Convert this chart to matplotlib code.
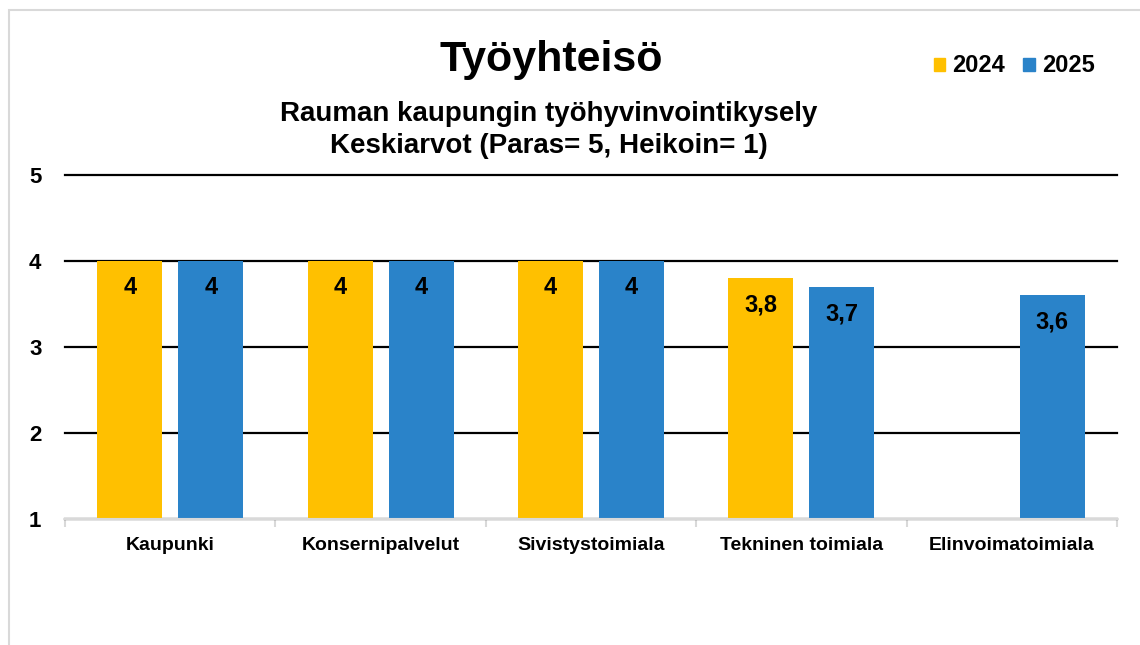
import numpy as np
import matplotlib
matplotlib.use("Agg")
import matplotlib.pyplot as plt
from matplotlib.patches import Patch, Rectangle

plt.rcParams['font.family'] = ['Liberation Sans', 'DejaVu Sans']
plt.rcParams['font.weight'] = 'bold'

# data
categories = ['Kaupunki', 'Konsernipalvelut', 'Sivistystoimiala', 'Tekninen toimiala', 'Elinvoimatoimiala']
years = ['2024', '2025']
vals_2024 = [4, 4, 4, 3.8, np.nan]
vals_2025 = [4, 4, 4, 3.7, 3.6]
yticks = [1, 2, 3, 4, 5]

c2024 = '#FFC000'
c2025 = '#2A83C9'

fig = plt.figure(figsize=(11.4, 6.45), dpi=100)
ax = fig.add_axes([65/1140, 0.1953, (1117-65)/1140, 0.5334])

x = np.arange(len(categories))
w = 0.309
off = 0.1925
base = 1

for vals, shift, col in [(vals_2024, -off, c2024), (vals_2025, off, c2025)]:
    v = np.array(vals, dtype=float)
    ax.bar(x + shift, v - base, w, bottom=base, color=col, zorder=3)
    for xi, vi in zip(x + shift, v):
        if np.isnan(vi):
            continue
        ax.annotate(f"{vi:g}".replace('.', ','), (xi, vi), xytext=(0, -11),
                    textcoords='offset points', ha='center', va='top',
                    fontsize=17, fontweight='bold', color='black', zorder=4)

ax.set_xlim(-0.5, len(categories) - 0.5)
ax.set_ylim(1, 5)
ax.set_yticks(yticks)
ax.set_yticklabels([str(t) for t in yticks], fontsize=16, fontweight='bold')
ax.tick_params(axis='y', length=0, pad=17)
ax.yaxis.grid(True, color='black', linewidth=1.6, zorder=0)
for gl in ax.get_ygridlines():
    gl.set_clip_on(False)
ax.set_axisbelow(True)

ax.set_xticks(x)
ax.set_xticklabels(categories, fontsize=14, fontweight='bold')
ax.tick_params(axis='x', which='major', length=0, pad=13)
ax.set_xticks(np.arange(-0.5, len(categories)), minor=True)
ax.tick_params(axis='x', which='minor', length=6, width=1.5, color='#D9D9D9')

for s in ['top', 'right', 'left']:
    ax.spines[s].set_visible(False)
ax.spines['bottom'].set_color('#D9D9D9')
ax.spines['bottom'].set_linewidth(1.5)
ax.spines['bottom'].set_zorder(5)

fig.text(551/1140, 1 - 60/645, 'Työyhteisö', ha='center', va='center',
         fontsize=31, fontweight='bold')
fig.text(549/1140, 1 - 130/645, 'Rauman kaupungin työhyvinvointikysely\nKeskiarvot (Paras= 5, Heikoin= 1)',
         ha='center', va='center', fontsize=20, fontweight='bold', linespacing=1.3)

handles = [Patch(color=c2024), Patch(color=c2025)]
fig.legend(handles, years, loc='center', bbox_to_anchor=(1014/1140, 1 - 66/645),
           ncol=2, frameon=False, handlelength=0.47, handleheight=0.47,
           handletextpad=0.3, columnspacing=0.8, prop={'weight': 'bold', 'size': 17})

# outer frame of the chart area
fig.patches.append(Rectangle((9/1140, -0.1), 1.2, 1.1 - 10/645,
                             transform=fig.transFigure, fill=False,
                             edgecolor='#D9D9D9', linewidth=1.5))

fig.savefig('out.png', dpi=100)
